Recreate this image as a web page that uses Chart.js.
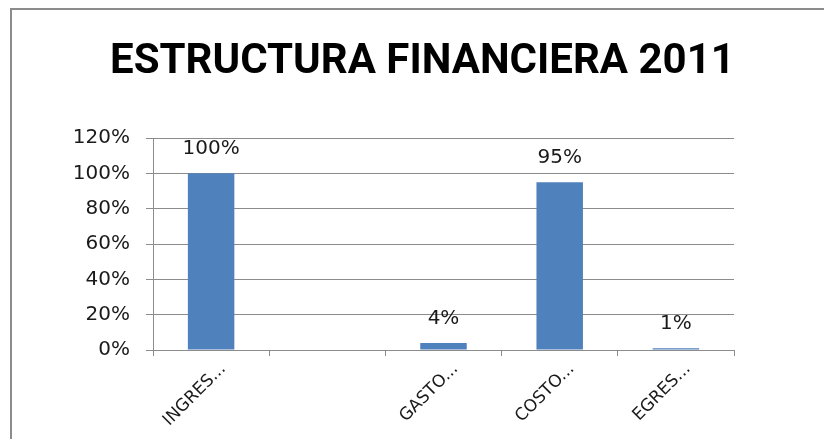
<!DOCTYPE html>
<html>
<head>
<meta charset="utf-8">
<title>Estructura financiera 2011</title>
<script src="https://cdn.jsdelivr.net/npm/chart.js@4.4.1/dist/chart.umd.min.js"></script>
<style>
    html, body { margin: 0; padding: 0; background: #fff; overflow: hidden; }
    #frame {
        position: absolute; left: 10px; top: 8px; width: 900px; height: 500px;
        border-top: 2px solid #8c8c8c; border-left: 2px solid #8c8c8c;
    }
    #chartBox { position: absolute; left: 0; top: 0; width: 824px; height: 439px; }
</style>
</head>
<body>
<div id="frame"></div>
<div id="chartBox"><canvas id="financeChart" width="824" height="439"></canvas></div>
<script>
// chart data
const chartTitle = 'ESTRUCTURA FINANCIERA 2011';
const categories = ['INGRES...', '', 'GASTO...', 'COSTO...', 'EGRES...'];
const percentValues = [100, null, 4, 95, 1];
const yTickValues = [0, 20, 40, 60, 80, 100, 120];

const axisGray = '#8c8c8c';
const textColor = '#1a1a1a';

// value labels above each bar
const barLabels = {
    id: 'barLabels',
    afterDatasetsDraw(chart) {
        const ctx = chart.ctx;
        const meta = chart.getDatasetMeta(0);
        ctx.save();
        ctx.font = '20px "DejaVu Sans"';
        ctx.fillStyle = textColor;
        ctx.textAlign = 'center';
        ctx.textBaseline = 'alphabetic';
        meta.data.forEach(function(bar, i) {
            const v = percentValues[i];
            if (v === null) return;
            ctx.fillText(v + '%', bar.x, bar.y - 19);
        });
        ctx.restore();
    }
};

const ctx = document.getElementById('financeChart').getContext('2d');
new Chart(ctx, {
    type: 'bar',
    data: {
        labels: categories,
        datasets: [{
            data: percentValues,
            backgroundColor: '#4F81BD',
            borderWidth: 0,
            categoryPercentage: 0.4,
            barPercentage: 1
        }]
    },
    options: {
        responsive: false,
        animation: false,
        devicePixelRatio: 1,
        layout: { padding: { left: 21, right: 0, top: 0, bottom: 0 } },
        plugins: {
            legend: { display: false },
            tooltip: { enabled: false },
            title: {
                display: true,
                text: chartTitle,
                color: '#000',
                font: { family: 'Roboto', size: 42, weight: 'bold' },
                padding: { top: 37, bottom: 50.6 }
            }
        },
        scales: {
            x: {
                grid: {
                    display: true,
                    drawOnChartArea: false,
                    drawTicks: true,
                    tickLength: 6,
                    color: axisGray,
                    offset: true
                },
                border: { display: true, color: axisGray },
                ticks: {
                    minRotation: 45,
                    maxRotation: 45,
                    autoSkip: false,
                    labelOffset: 12,
                    padding: 3,
                    color: textColor,
                    font: { family: 'DejaVu Sans', size: 17 }
                },
                afterFit: function(scale) { scale.height = 89; }
            },
            y: {
                min: 0,
                max: 120,
                grid: { color: axisGray, tickLength: 7, drawTicks: true },
                border: { display: true, color: axisGray },
                ticks: {
                    padding: 16,
                    color: textColor,
                    font: { family: 'DejaVu Sans', size: 20 },
                    callback: function(v) { return v + '%'; }
                },
                afterBuildTicks: function(scale) {
                    scale.ticks = yTickValues.map(function(v) { return { value: v }; });
                },
                afterFit: function(scale) { scale.width = 132; }
            },
            // empty space on the right, like the original plot area
            yRight: {
                position: 'right',
                grid: { display: false },
                border: { display: false },
                ticks: { display: false },
                afterFit: function(scale) { scale.width = 90; }
            }
        }
    },
    plugins: [barLabels]
});
</script>
</body>
</html>
